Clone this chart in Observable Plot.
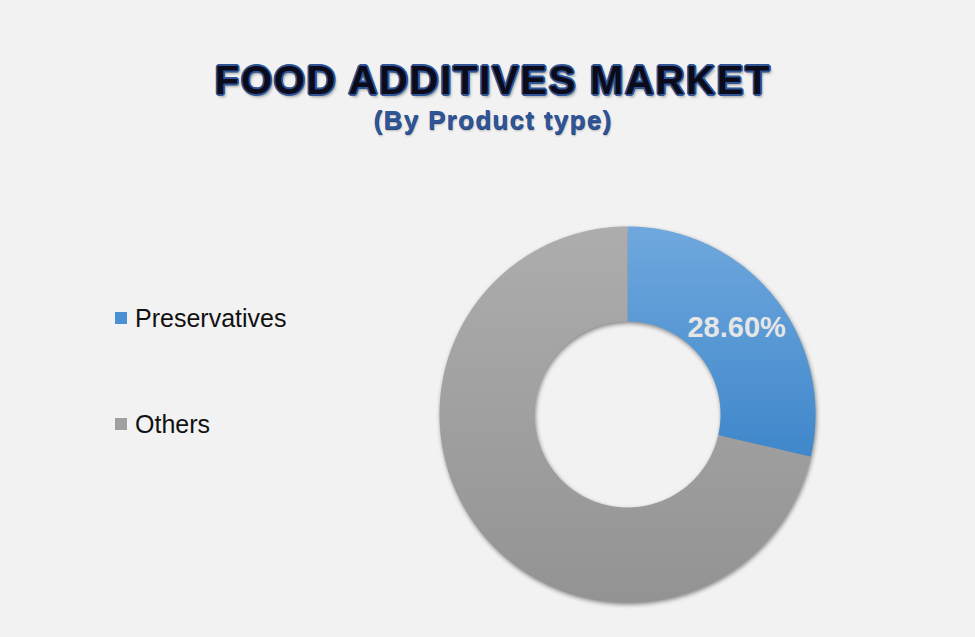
<!DOCTYPE html>
<html>
<head>
<meta charset="utf-8">
<script src="https://cdn.jsdelivr.net/npm/d3@7"></script>
<script src="https://cdn.jsdelivr.net/npm/@observablehq/plot@0.6"></script>
<style>
  html, body { margin: 0; padding: 0; background: #f2f2f2; }
  #wrap { position: relative; width: 975px; height: 637px; overflow: hidden; background: #f2f2f2;
          font-family: "Liberation Sans", Arial, sans-serif; }
  #head { position: relative; height: 160px; }
  .title { position: absolute; left: 0; width: 986px; text-align: center; white-space: nowrap; line-height: 1; }
  #t1 { top: 60px; font-size: 40px; font-weight: bold; color: #0b0b1c; letter-spacing: 1.7px;
        text-shadow: 1.6px 0 0 #2f5597, -1.6px 0 0 #2f5597, 0 1.6px 0 #2f5597, 0 -1.6px 0 #2f5597,
                     1.2px 1.2px 0 #2f5597, -1.2px 1.2px 0 #2f5597, 1.2px -1.2px 0 #2f5597, -1.2px -1.2px 0 #2f5597,
                     2px 3px 3px rgba(0,0,0,0.35); }
  #t2 { top: 107px; font-size: 26px; font-weight: bold; color: #2f5597; letter-spacing: 1.3px;
        text-shadow: 0.5px 0.5px 0 #24487f, 1px 2px 2px rgba(0,0,0,0.25); }
  #chart { position: relative; height: 477px; }
  #chart svg g[aria-label="geo"] { filter: drop-shadow(1px 2px 2px rgba(0,0,0,0.45)); }
  #legend { position: absolute; left: 0; top: 0; width: 400px; height: 637px; pointer-events: none; }
  .item { position: absolute; left: 115px; font-size: 25px; color: #111; line-height: 1; white-space: nowrap; }
  .sw { position: absolute; left: 0; width: 12px; height: 12px; }
  .lab { position: absolute; left: 20px; }
</style>
</head>
<body>
<div id="wrap">
  <div id="head">
    <div class="title" id="t1">FOOD ADDITIVES MARKET</div>
    <div class="title" id="t2">(By Product type)</div>
  </div>
  <div id="chart"></div>
  <div id="legend"></div>
</div>
<script>
// ---- data ----
const categories = ["Preservatives", "Others"];
const shares = [28.6, 71.4];
const valueLabels = ["28.60%", ""];
const palette = ["url(#gradBlue)", "url(#gradGray)"];
const swatchColors = ["#4a90d4", "#a0a0a0"];

const data = categories.map((c, i) => ({category: c, share: shares[i], label: valueLabels[i]}));

// ---- geometry ----
const W = 975, H = 477;
const cx = 627, cy = 254;
const innerR = 93, outerR = 188;

const arcs = d3.pie().sort(null).value(d => d.share)(data);

function ring(a0, a1) {
  const d0 = a0 * 180 / Math.PI, d1 = a1 * 180 / Math.PI;
  const n = Math.max(8, Math.ceil((d1 - d0) / 0.5));
  const outer = d3.range(n + 1).map(k => [d0 + (d1 - d0) * k / n, outerR]);
  const inner = d3.range(n + 1).map(k => [d1 - (d1 - d0) * k / n, innerR]);
  const coords = outer.concat(inner);
  coords.push(coords[0]);
  return coords;
}

const features = arcs.map(a => ({
  type: "Feature",
  properties: {category: a.data.category},
  geometry: {type: "Polygon", coordinates: [ring(a.startAngle, a.endAngle)]}
}));

const labelData = arcs.filter(a => a.data.label).map(a => ({
  angle: (a.startAngle + a.endAngle) / 2 * 180 / Math.PI,
  r: (innerR + outerR) / 2 - 1,
  label: a.data.label
}));

// polar projection: x = angle (deg, clockwise from top), y = radius (px)
const polar = d3.geoTransform({
  point(a, r) {
    const t = a * Math.PI / 180;
    this.stream.point(cx + r * Math.sin(t), cy - r * Math.cos(t));
  }
});

const svg = Plot.plot({
  width: W,
  height: H,
  margin: 0,
  style: {background: "transparent", overflow: "visible"},
  projection: polar,
  color: {domain: categories, range: palette},
  marks: [
    Plot.geo(features, {fill: d => d.properties.category, stroke: "none"}),
    Plot.text(labelData, {
      x: "angle", y: "r", text: "label",
      fill: "#e6e6e6", fontSize: 29, fontWeight: "bold",
      fontFamily: "Liberation Sans, Arial, sans-serif"
    })
  ]
});

const defs = d3.select(svg).insert("defs", ":first-child");
function grad(id, c0, c1) {
  const g = defs.append("linearGradient").attr("id", id)
    .attr("x1", 0).attr("y1", 0).attr("x2", 0).attr("y2", 1);
  g.append("stop").attr("offset", "0%").attr("stop-color", c0);
  g.append("stop").attr("offset", "100%").attr("stop-color", c1);
}
grad("gradBlue", "#6fa8dd", "#3f87cb");
grad("gradGray", "#adadad", "#939393");

document.getElementById("chart").appendChild(svg);

// ---- legend ----
const legendTops = [306, 412];
const legend = d3.select("#legend");
categories.forEach((c, i) => {
  const it = legend.append("div").attr("class", "item").style("top", legendTops[i] + "px");
  it.append("div").attr("class", "sw").style("top", "6px").style("background", swatchColors[i]);
  it.append("div").attr("class", "lab").text(c);
});
</script>
</body>
</html>
